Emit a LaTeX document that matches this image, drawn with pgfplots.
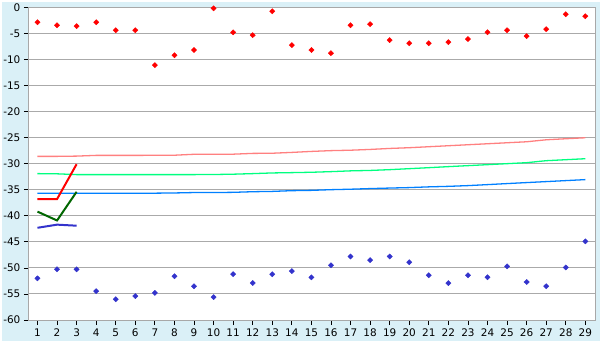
\documentclass[border=0pt]{standalone}
\usepackage{pgfplots}
\pgfplotsset{compat=1.18}
\usepackage{fontspec}
\setmainfont{DejaVu Sans}
\definecolor{bg}{HTML}{DAF0F7}
\definecolor{gridgray}{HTML}{AAAAAA}
\definecolor{axgray}{HTML}{A8A8A8}
\definecolor{ptred}{HTML}{FF0000}
\definecolor{ptblue}{HTML}{3333CC}
\definecolor{lpink}{HTML}{FF8080}
\definecolor{lgreen}{HTML}{00FF80}
\definecolor{lblue}{HTML}{0080FF}
\definecolor{dgreen}{HTML}{006600}
\begin{document}
\begin{tikzpicture}
\fill[bg] (0,0) rectangle (600pt,340pt);
\begin{axis}[
  at={(26.7pt,20.7pt)}, anchor=south west,
  scale only axis, width=568.6pt, height=314pt,
  xmin=0.562, xmax=29.51, ymin=-60, ymax=0,
  xtick={1,...,29}, ytick={-60,-55,...,0},
  xtick pos=bottom, ytick pos=left,
  ymajorgrids, xmajorgrids=false,
  grid style={color=gridgray, line width=1pt},
  axis line style={color=axgray, line width=1pt},
  axis background/.style={fill=white},
  tick align=outside, major tick length=5pt,
  tick style={black, line width=0.8pt},
  ticklabel style={font=\fontsize{10.5}{12}\selectfont},
  /pgf/number format/assume math mode=true,
  clip=false,
]
% trend lines
\addplot[lpink, line width=1.3pt] coordinates {
(1,-28.60)(2,-28.60)(3,-28.55)(4,-28.41)(5,-28.41)(6,-28.41)(7,-28.40)(8,-28.38)(9,-28.2)(10,-28.2)
(11,-28.18)(12,-28.03)(13,-28.0)(14,-27.84)(15,-27.65)(16,-27.50)(17,-27.42)(18,-27.27)(19,-27.08)(20,-26.94)
(21,-26.75)(22,-26.56)(23,-26.37)(24,-26.18)(25,-25.99)(26,-25.80)(27,-25.42)(28,-25.22)(29,-25.03)};
\addplot[lgreen, line width=1.3pt] coordinates {
(1,-31.91)(2,-31.95)(3,-32.10)(4,-32.10)(5,-32.10)(6,-32.10)(7,-32.10)(8,-32.10)(9,-32.10)(10,-32.08)
(11,-32.02)(12,-31.91)(13,-31.78)(14,-31.72)(15,-31.65)(16,-31.53)(17,-31.38)(18,-31.30)(19,-31.15)(20,-30.96)
(21,-30.77)(22,-30.57)(23,-30.38)(24,-30.19)(25,-30.00)(26,-29.81)(27,-29.43)(28,-29.24)(29,-29.05)};
\addplot[lblue, line width=1.3pt] coordinates {
(1,-35.68)(2,-35.68)(3,-35.68)(4,-35.68)(5,-35.68)(6,-35.68)(7,-35.66)(8,-35.62)(9,-35.54)(10,-35.54)
(11,-35.50)(12,-35.38)(13,-35.32)(14,-35.18)(15,-35.12)(16,-34.99)(17,-34.90)(18,-34.78)(19,-34.68)(20,-34.59)
(21,-34.45)(22,-34.35)(23,-34.21)(24,-34.02)(25,-33.82)(26,-33.63)(27,-33.44)(28,-33.25)(29,-33.06)};
% short lines
\addplot[ptred, line width=2pt] coordinates {(1,-36.8)(2,-36.8)(3,-30.1)};
\addplot[dgreen, line width=2pt] coordinates {(1,-39.2)(2,-40.9)(3,-35.4)};
\addplot[ptblue, line width=2pt] coordinates {(1,-42.3)(2,-41.7)(3,-41.9)};
% points
\addplot[only marks, mark=diamond*, mark size=2.6pt, mark options={xscale=1.35}, color=ptred] coordinates {
(1,-2.87)(2,-3.44)(3,-3.63)(4,-2.87)(5,-4.4)(6,-4.4)(7,-11.1)(8,-9.2)(9,-8.2)(10,-0.2)
(11,-4.8)(12,-5.35)(13,-0.76)(14,-7.26)(15,-8.2)(16,-8.8)(17,-3.44)(18,-3.25)(19,-6.3)(20,-6.9)
(21,-6.9)(22,-6.7)(23,-6.1)(24,-4.8)(25,-4.4)(26,-5.55)(27,-4.2)(28,-1.34)(29,-1.72)};
\addplot[only marks, mark=diamond*, mark size=2.6pt, mark options={xscale=1.35}, color=ptblue] coordinates {
(1,-52.0)(2,-50.26)(3,-50.26)(4,-54.46)(5,-56.0)(6,-55.4)(7,-54.8)(8,-51.6)(9,-53.5)(10,-55.6)
(11,-51.2)(12,-52.9)(13,-51.2)(14,-50.6)(15,-51.8)(16,-49.5)(17,-47.8)(18,-48.5)(19,-47.8)(20,-48.9)
(21,-51.4)(22,-52.9)(23,-51.4)(24,-51.8)(25,-49.7)(26,-52.7)(27,-53.5)(28,-49.9)(29,-44.9)};
\end{axis}
\end{tikzpicture}
\end{document}
